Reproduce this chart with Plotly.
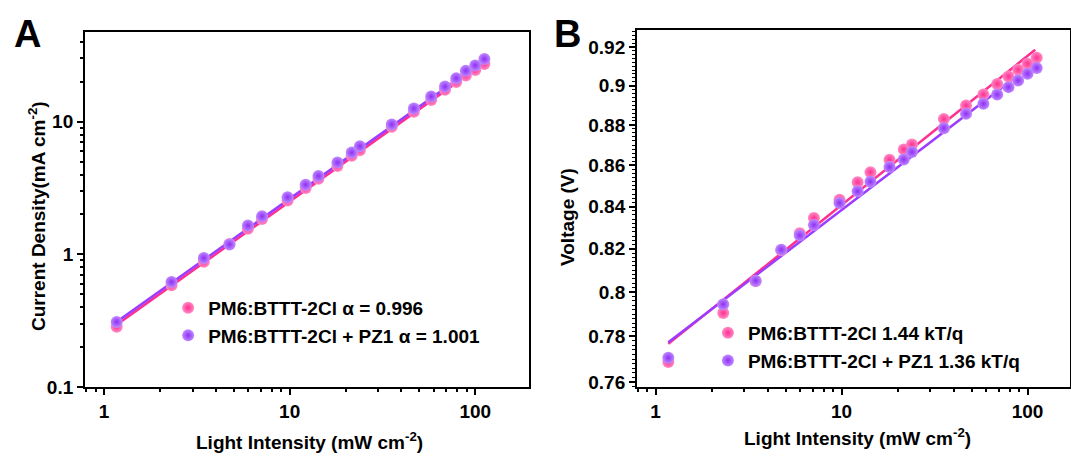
import numpy as np
import plotly.graph_objects as go

# ---------------- data ----------------
INTENSITY = [1.17, 2.31, 3.45, 4.74, 5.96, 7.1, 9.75, 12.2, 14.3, 18.1,
             21.6, 23.9, 35.5, 46.7, 57.9, 68.7, 79, 89, 100, 112]

J_PINK = [0.285, 0.586, 0.88, 1.20, 1.56, 1.85, 2.55, 3.16, 3.72, 4.64,
          5.53, 6.10, 9.16, 11.9, 14.6, 17.4, 19.9, 22.3, 24.6, 27.3]
J_PURPLE = [0.31, 0.62, 0.94, 1.19, 1.65, 1.94, 2.70, 3.35, 3.90, 4.92,
            5.86, 6.54, 9.55, 12.6, 15.5, 18.4, 21.3, 24.2, 26.6, 29.7]

V_PINK = [0.7687, 0.7905, 0.8050, 0.8193, 0.8273, 0.8345, 0.8432, 0.8517, 0.8566, 0.8627,
          0.8678, 0.8702, 0.8830, 0.8898, 0.8954, 0.9008, 0.9047, 0.9082, 0.9113, 0.9144]
V_PURPLE = [0.7706, 0.7945, 0.8052, 0.8196, 0.8263, 0.8312, 0.8417, 0.8473, 0.8520, 0.8591,
            0.8628, 0.8665, 0.8784, 0.8856, 0.8907, 0.8954, 0.8992, 0.9026, 0.9061, 0.9091]

# fitted lines (end points)
FIT_X = [1.17, 110]
FIT_J_PINK = [0.295, 27.3]
FIT_J_PURPLE = [0.31, 28.6]
FIT_V_PINK = [0.7767, 0.9186]
FIT_V_PURPLE = [0.7774, 0.9121]

NAME_A_PINK = "PM6:BTTT-2Cl α = 0.996"
NAME_A_PURPLE = "PM6:BTTT-2Cl + PZ1 α = 1.001"
NAME_B_PINK = "PM6:BTTT-2Cl 1.44 kT/q"
NAME_B_PURPLE = "PM6:BTTT-2Cl + PZ1 1.36 kT/q"

X_TITLE = "Light Intensity (mW cm<sup>-2</sup>)"
Y_TITLE_A = "Current Density(mA cm<sup>-2</sup>)"
Y_TITLE_B = "Voltage (V)"

V_TICKS = [0.76, 0.78, 0.80, 0.82, 0.84, 0.86, 0.88, 0.90, 0.92]
V_TICKTEXT = ["0.76", "0.78", "0.8", "0.82", "0.84", "0.86", "0.88", "0.9", "0.92"]
V_MINOR = [round(v, 3) for v in np.arange(0.758, 0.9281, 0.002)]

# ---------------- style ----------------
PINK = "#FF2F90"
PINK_LIGHT = "#FF8CC6"
PURPLE = "#8E2EF5"
PURPLE_LIGHT = "#C08BFF"
FONT = "Liberation Sans"
W, H = 1071, 457

fig = go.Figure()


def add_panel(xa, ya, y_pink, y_purple, fit_pink, fit_purple, n_pink, n_purple, legend):
    fig.add_trace(go.Scatter(x=FIT_X, y=fit_pink, mode="lines", line=dict(color=PINK, width=2.5),
                             showlegend=False, xaxis=xa, yaxis=ya, hoverinfo="skip"))
    fig.add_trace(go.Scatter(x=FIT_X, y=fit_purple, mode="lines", line=dict(color="#9B3CFF", width=2.5),
                             showlegend=False, xaxis=xa, yaxis=ya, hoverinfo="skip"))
    fig.add_trace(go.Scatter(x=INTENSITY, y=y_pink, mode="markers", name=n_pink,
                             marker=dict(size=12, color=PINK_LIGHT,
                                         gradient=dict(type="radial", color=PINK),
                                         line=dict(width=0)),
                             xaxis=xa, yaxis=ya, legend=legend))
    fig.add_trace(go.Scatter(x=INTENSITY, y=y_purple, mode="markers", name=n_purple,
                             marker=dict(size=12, color=PURPLE_LIGHT,
                                         gradient=dict(type="radial", color=PURPLE),
                                         line=dict(width=0)),
                             xaxis=xa, yaxis=ya, legend=legend))


add_panel("x", "y", J_PINK, J_PURPLE, FIT_J_PINK, FIT_J_PURPLE, NAME_A_PINK, NAME_A_PURPLE, "legend")
add_panel("x2", "y2", V_PINK, V_PURPLE, FIT_V_PINK, FIT_V_PURPLE, NAME_B_PINK, NAME_B_PURPLE, "legend2")

tickfont = dict(family=FONT, size=19, color="black", weight="bold")
titlefont = dict(family=FONT, size=19, color="black", weight="bold")
legfont = dict(family=FONT, size=19, color="black", weight="bold")
common = dict(showline=True, linecolor="black", linewidth=2, mirror=True,
              ticks="outside", ticklen=6, tickwidth=2, tickcolor="black",
              showgrid=False, zeroline=False, tickfont=tickfont, automargin=False)
minor_log = dict(ticks="outside", ticklen=3, tickwidth=1.5, tickcolor="black",
                 dtick="D1", showgrid=False)


def px(xp, yp):
    return xp / W, 1 - yp / H


annotations = []
for text, (x, y), angle in [
    (X_TITLE, px(309, 441), 0),
    (X_TITLE, px(857, 437), 0),
    (Y_TITLE_A, px(37, 216), -90),
    (Y_TITLE_B, px(568, 217), -90),
]:
    annotations.append(dict(text=text, x=x, y=y, xref="paper", yref="paper",
                            xanchor="center", yanchor="middle", showarrow=False,
                            textangle=angle, font=titlefont))
for text, xp in [("A", 12), ("B", 552)]:
    x, y = px(xp, 34)
    annotations.append(dict(text=text, x=x, y=y, xref="paper", yref="paper",
                            xanchor="left", yanchor="middle", showarrow=False,
                            font=dict(family=FONT, size=38, color="black", weight="bold")))

fig.update_layout(
    template="none",
    width=W, height=H,
    margin=dict(l=0, r=0, t=0, b=0, autoexpand=False),
    paper_bgcolor="white", plot_bgcolor="white",
    font=dict(family=FONT, color="black"),
    xaxis=dict(domain=[0.0794, 0.494], type="log", range=[np.log10(0.79), np.log10(195)],
               tickvals=[1, 10, 100], ticktext=["1", "10", "100"], minor=minor_log,
               anchor="y", **common),
    yaxis=dict(domain=[0.153, 0.931], type="log", range=[-1, 1.68],
               tickvals=[0.1, 1, 10], ticktext=["0.1", "1", "10"], minor=minor_log,
               anchor="x", **common),
    xaxis2=dict(domain=[0.5948, 0.999], type="log", range=[-0.1, 2.228],
                tickvals=[1, 10, 100], ticktext=["1", "10", "100"], minor=minor_log,
                anchor="y2", **common),
    yaxis2=dict(domain=[0.153, 0.934], type="log",
                range=[np.log10(0.7578), np.log10(0.9289)],
                tickvals=V_TICKS, ticktext=V_TICKTEXT,
                minor=dict(ticks="outside", ticklen=3, tickwidth=1.2, tickcolor="black",
                           tickvals=V_MINOR, showgrid=False),
                anchor="x2", **common),
    legend=dict(x=0.157, y=0.368, xanchor="left", yanchor="top",
                bgcolor="rgba(0,0,0,0)", borderwidth=0, font=legfont,
                itemsizing="constant", tracegroupgap=0),
    legend2=dict(x=0.661, y=0.313, xanchor="left", yanchor="top",
                 bgcolor="rgba(0,0,0,0)", borderwidth=0, font=legfont,
                 itemsizing="constant", tracegroupgap=0),
    annotations=annotations,
)

fig.write_html("out.html")
